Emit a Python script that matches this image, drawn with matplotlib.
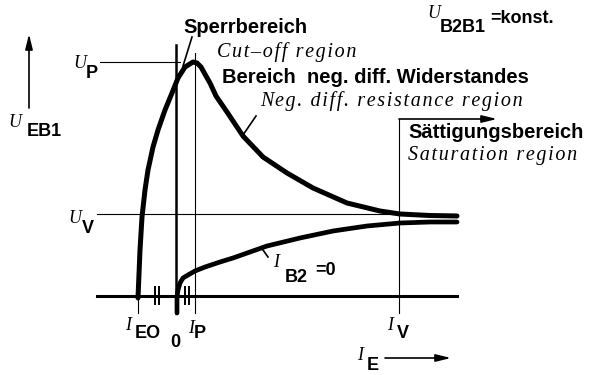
import matplotlib.pyplot as plt

# Characteristic of a unijunction transistor (arbitrary units, origin at I_E=0 / baseline)
main_x = [-38, -36, -34, -31, -28, -23, -18, -11, -4, 2, 9, 17, 21, 25, 30, 34, 40, 51, 67, 87, 111, 137, 171, 204, 224, 254, 281]
main_y = [-2, 46, 79, 106, 126, 149, 166, 186, 203, 218, 229, 234, 233, 229, 220, 213, 200, 184, 160, 139, 123, 108, 93, 85, 82, 80.5, 80]

# I_B2 = 0 curve
low_x = [1, 1, 2, 4, 7, 12, 19, 29, 44, 57, 91, 124, 157, 191, 224, 254, 281]
low_y = [-17, -1, 6, 13, 18, 21, 25, 29, 34, 38, 50, 58, 65, 70, 73, 74, 74]

# characteristic points
I_EO = -38
I_P = 19
I_V = 223
U_P = 234
U_V = 82
x_left, x_right = -79, 281
y_bottom = -17

SANS = ['Liberation Sans', 'DejaVu Sans']
SERIF = ['Liberation Serif', 'DejaVu Serif']


def spaced(s):
    return '\u200a'.join(s)


def bold(x, y, s, size=13, **kw):
    ax.text(x, y, s, family=SANS, weight='bold', fontsize=size, va='baseline', **kw)


def ital(x, y, s, size=13, **kw):
    ax.text(x, y, s, family=SERIF, style='italic', fontsize=size, va='baseline', **kw)


fig = plt.figure(figsize=(5.91, 3.75), dpi=100)
ax = fig.add_axes([0, 0, 1, 1])
ax.set_xlim(-176, 415)
ax.set_ylim(-79, 296)
ax.axis('off')

k = 'black'
# reference lines
ax.plot([x_left, x_right], [0, 0], color=k, lw=2.2)
ax.plot([x_left, x_right], [U_V, U_V], color=k, lw=0.8)
ax.plot([-76, 4], [U_P, U_P], color=k, lw=0.8)
ax.plot([0, 0], [y_bottom, 251], color=k, lw=1.8)
ax.plot([I_P, I_P], [y_bottom, 243], color=k, lw=0.8)
ax.plot([I_V, I_V], [y_bottom, 177], color=k, lw=0.8)
ax.plot([I_EO, I_EO], [y_bottom, 0], color=k, lw=0.8)

# axis breaks
for bx in [-21, -17.5, 9, 12.5]:
    ax.plot([bx, bx], [-8, 9], color=k, lw=1.4)

# curves
ax.plot(main_x, main_y, color=k, lw=3.6, solid_capstyle='round', solid_joinstyle='round')
ax.plot(low_x, low_y, color=k, lw=3.4, solid_capstyle='round', solid_joinstyle='round')

# pointer strokes
ax.plot([7, 16], [230, 259], color=k, lw=1.2)
ax.plot([67, 80], [161, 180], color=k, lw=1.2)
ax.plot([87, 92], [46, 39], color=k, lw=1.2)

# arrows
arrow = dict(arrowstyle='-|>,head_width=0.22,head_length=0.9', color=k, lw=1.2, shrinkA=0, shrinkB=0)
ax.annotate('', xy=(-147, 262), xytext=(-147, 188), arrowprops=arrow)
ax.annotate('', xy=(I_V + 98, 177), xytext=(I_V, 177), arrowprops=arrow)
ax.annotate('', xy=(275, -62), xytext=(209, -62), arrowprops=arrow)

# region texts
bold(7, 263, 'Sperrbereich', 14.5)
ital(41, 239, spaced('Cut–off region'), 14.5)
bold(46, 213, 'Bereich  neg. diff. Widerstandes', 14.5)
ital(84, 190, spaced('Neg. diff. resistance region'), 14.5)
bold(232, 158, 'Sättigungsbereich', 14.5)
ital(232, 136, spaced('Saturation region'), 14.5)

# U_B2B1 = konst.
ital(251, 278, 'U')
bold(264, 264, 'B2B1')
bold(314, 273, '=konst.')

# axis labels
ital(-168, 169, 'U')
bold(-149, 160, 'EB1')
ital(-103, 228, 'U')
bold(-90, 218, 'P')
ital(-108, 73, 'U')
bold(-94, 63, 'V')
ital(-51, -34, 'I')
bold(-41, -42, 'EO')
bold(-1, -51, '0', ha='center')
ital(12, -37, 'I')
bold(18, -42, 'P')
ital(211, -34, 'I')
bold(221, -42, 'V')
ital(181, -64, 'I')
bold(191, -74, 'E')
ital(97, 29, 'I')
bold(109, 14, 'B2')
bold(139, 21, '=0')

fig.savefig('out.png', dpi=100)
